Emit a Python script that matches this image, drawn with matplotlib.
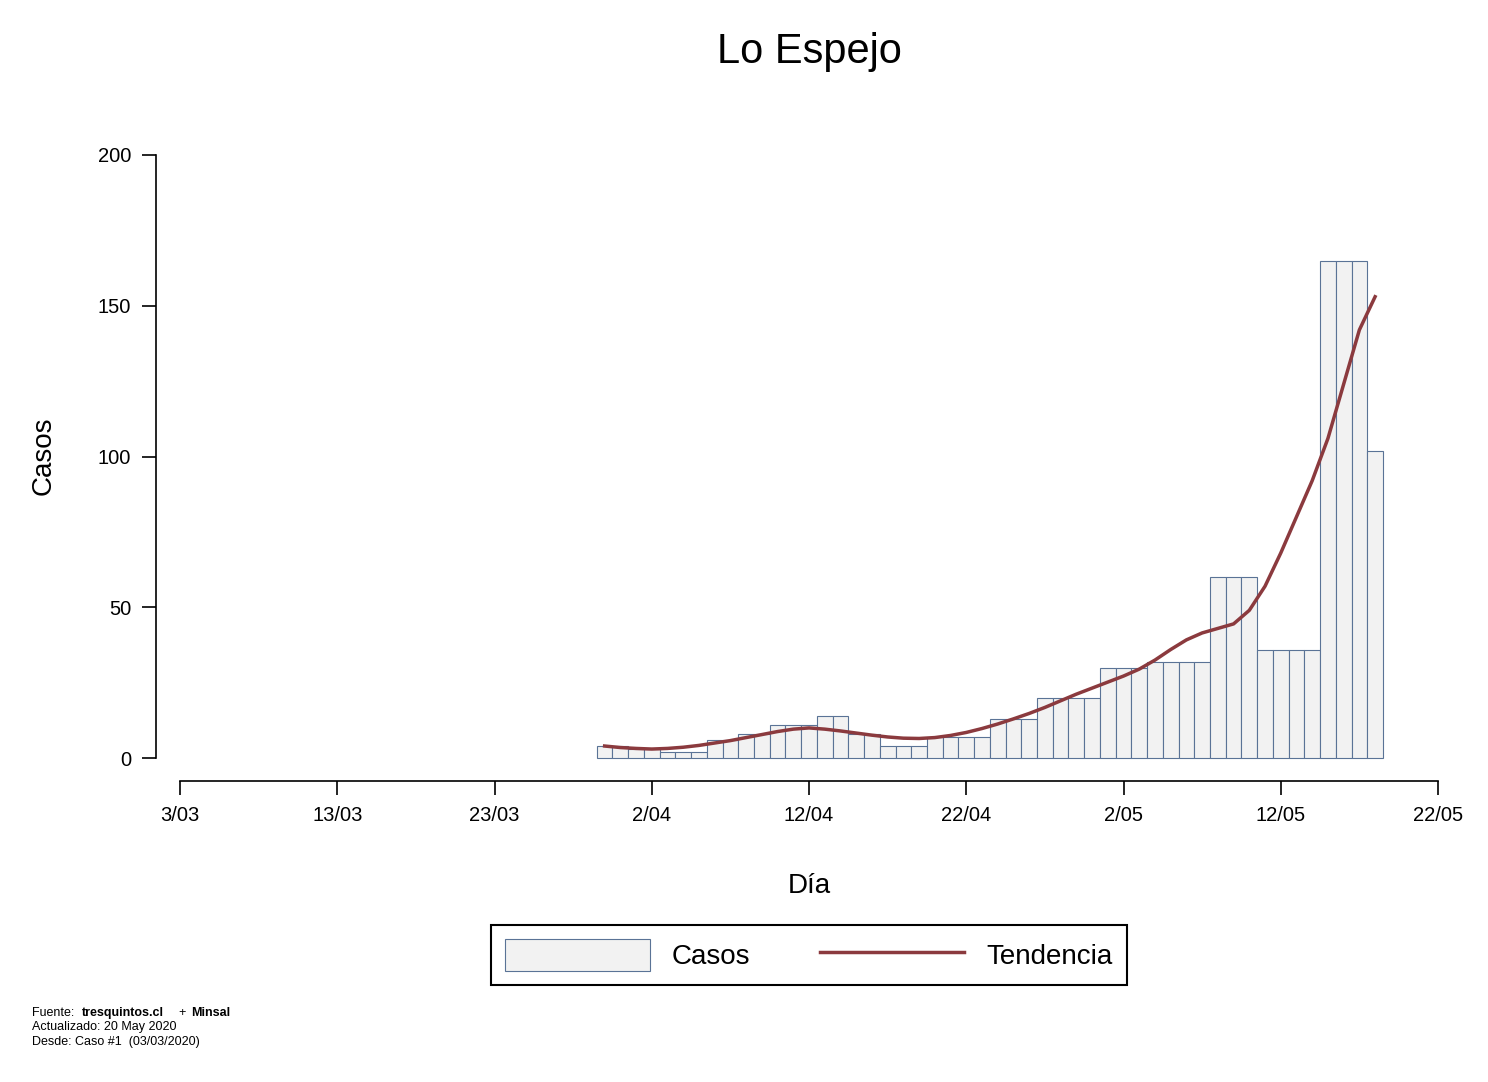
import matplotlib
matplotlib.use("Agg")
import matplotlib.pyplot as plt
from matplotlib.patches import Patch
from matplotlib.lines import Line2D

plt.rcParams['font.family'] = ['Liberation Sans', 'DejaVu Sans']

# days counted from 3/03 (day 0)
first_day = 27
casos = [4, 4, 3, 3, 2, 2, 2, 6, 6, 8, 8, 11, 11, 11, 14, 14, 8, 8, 4, 4, 4,
         7, 7, 7, 7, 13, 13, 13, 20, 20, 20, 20, 30, 30, 30, 32, 32, 32, 32,
         60, 60, 60, 36, 36, 36, 36, 165, 165, 165, 102]
tendencia = [4, 3.5, 3.2, 3, 3.2, 3.6, 4.2, 5, 5.8, 6.8, 7.8, 8.8, 9.6, 10, 9.6,
             9, 8.3, 7.6, 7, 6.6, 6.5, 6.8, 7.5, 8.5, 9.8, 11.3, 13, 14.8, 16.8,
             19, 21.2, 23.2, 25.2, 27.2, 29.5, 32.5, 36, 39.2, 41.5, 43, 44.5,
             49, 57, 68, 80, 92, 106, 124, 142, 153]
dias = list(range(first_day, first_day + len(casos)))
tick_pos = [0, 10, 20, 30, 40, 50, 60, 70, 80]
tick_lab = ['3/03', '13/03', '23/03', '2/04', '12/04', '22/04', '2/05', '12/05', '22/05']

fig = plt.figure(figsize=(14.88, 10.82), dpi=100)
ax = fig.add_axes([156/1488, 1 - 781/1082, (1438 - 156)/1488, (781 - 155)/1082])
ax.bar(dias, casos, width=1, color='#f2f2f2', edgecolor='#5a7396', linewidth=0.8)
ax.plot(dias, tendencia, color='#8b3a3e', linewidth=2.5)

ax.set_xlim(-1.53, 80)
ax.set_ylim(-7.6, 200)
for s in ['top', 'right']:
    ax.spines[s].set_visible(False)
ax.spines['left'].set_bounds(0, 200)
ax.spines['bottom'].set_bounds(0, 80)
ax.set_yticks([0, 50, 100, 150, 200])
ax.set_xticks(tick_pos)
ax.set_xticklabels(tick_lab)
ax.tick_params(length=10, width=1.2, labelsize=14.5, pad=8)
for s in ['left', 'bottom']:
    ax.spines[s].set_linewidth(1.2)

fig.text(809/1488, 1 - 52/1082, 'Lo Espejo', ha='center', va='center', fontsize=30)
fig.text(809/1488, 1 - 886/1082, 'Día', ha='center', va='center', fontsize=20)
fig.text(44/1488, 1 - 456/1082, 'Casos', ha='center', va='center', fontsize=20, rotation=90)

handles = [Patch(facecolor='#f2f2f2', edgecolor='#5a7396', linewidth=0.8),
           Line2D([], [], color='#8b3a3e', linewidth=2.5)]
leg = fig.legend(handles, ['Casos', 'Tendencia'], ncol=2, loc='center',
                 bbox_to_anchor=(809/1488, 1 - 955/1082), fontsize=20,
                 fancybox=False, edgecolor='black', framealpha=1,
                 handlelength=5.2, handleheight=1.4, columnspacing=2.5, borderpad=0.5)
leg.get_frame().set_linewidth(1.5)

fs = 9
fig.text(32/1488, 1 - 1013/1082, 'Fuente:', fontsize=fs, va='center')
fig.text(82/1488, 1 - 1013/1082, 'tresquintos.cl', fontsize=fs, va='center', fontweight='bold')
fig.text(178/1488, 1 - 1013/1082, '+', fontsize=fs, va='center')
fig.text(191/1488, 1 - 1013/1082, 'Minsal', fontsize=fs, va='center', fontweight='bold')
fig.text(32/1488, 1 - 1027/1082, 'Actualizado: 20 May 2020', fontsize=fs, va='center')
fig.text(32/1488, 1 - 1042/1082, 'Desde: Caso #1  (03/03/2020)', fontsize=fs, va='center')

fig.savefig('out.png', dpi=100)
